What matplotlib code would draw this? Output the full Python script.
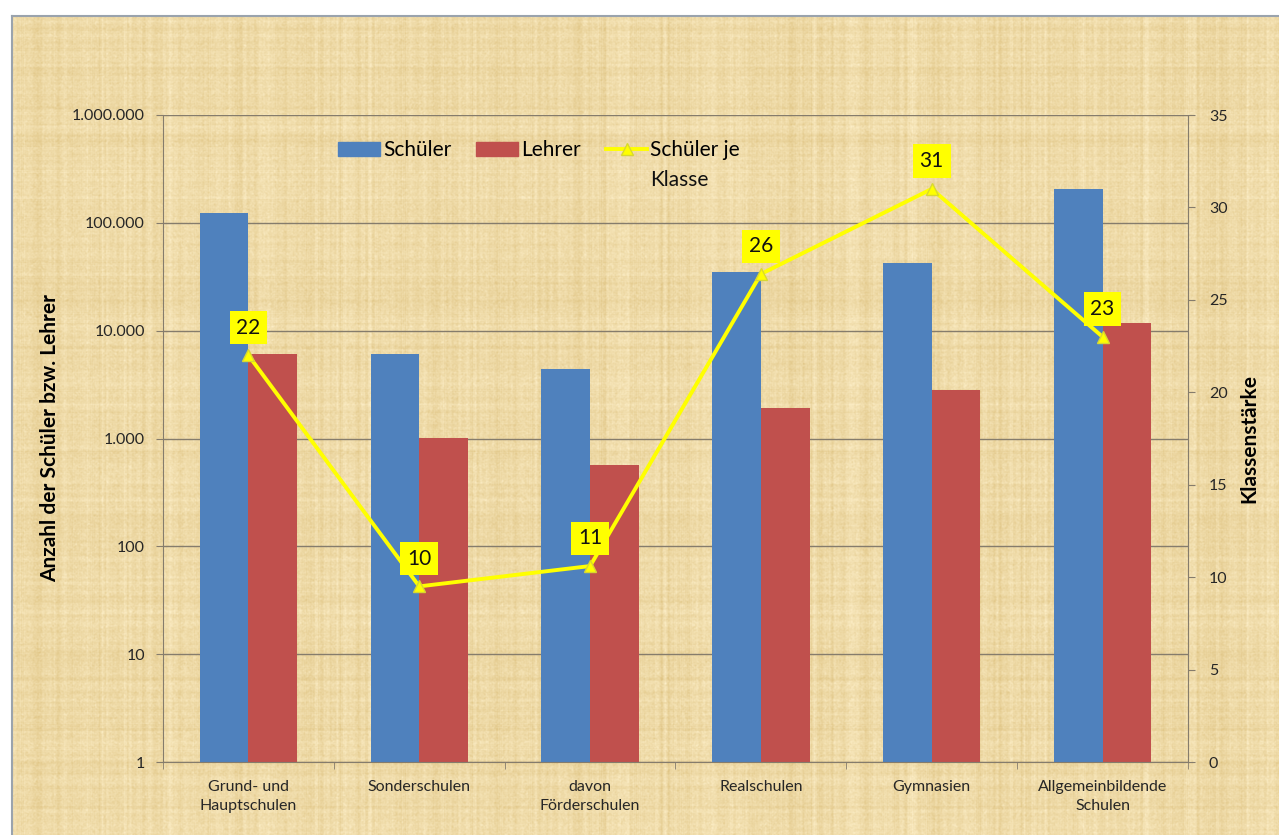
import numpy as np
import matplotlib
matplotlib.use('Agg')
import matplotlib.pyplot as plt
import matplotlib.ticker as mticker
import matplotlib.lines as mlines
import matplotlib.patches as mpatches

plt.rcParams['font.family'] = ['Lato', 'DejaVu Sans']

# Schulen: Schüler, Lehrer und Klassenstärke
schularten = ['Grund- und\nHauptschulen', 'Sonderschulen', 'davon\nFörderschulen',
              'Realschulen', 'Gymnasien', 'Allgemeinbildende\nSchulen']
schueler = [124000, 6100, 4400, 35000, 42500, 206000]
lehrer = [6100, 1010, 570, 1920, 2820, 11800]
klassenstaerke = [22.0, 9.5, 10.6, 26.4, 31.0, 23.0]

W, H = 1279, 835
fig = plt.figure(figsize=(W / 100, H / 100), dpi=100)
fig.patch.set_facecolor('white')

# Papyrus-Hintergrund, pixelgenau
rng = np.random.default_rng(11)
h, w = H - 17, W - 13
def glatt(a, n):
    k = np.ones(n) / n
    return np.convolve(a, k, mode='same')
spalten = glatt(rng.normal(0, 1, w), 3) + 0.7 * glatt(rng.normal(0, 1, w), 45)
zeilen = glatt(rng.normal(0, 1, h), 3) + 0.4 * glatt(rng.normal(0, 1, h), 35)
fein = rng.normal(0, 1, (h, w))
fein = (fein + np.roll(fein, 1, 0) + np.roll(fein, 1, 1) + np.roll(fein, (1, 1), (0, 1))) / 2
schatten = 0.022 * spalten[None, :] + 0.016 * zeilen[:, None] + 0.010 * fein
basis = np.array([0.935, 0.855, 0.655])
bild = np.clip(basis + schatten[..., None] * np.array([0.7, 1.0, 1.6]), 0, 1)
fig.figimage(bild, xo=13, yo=0, origin='upper', zorder=-10)
fig.add_artist(mlines.Line2D([12 / W, 12 / W], [0, 1 - 16 / H], color='#9aa3ad', lw=1.5))
fig.add_artist(mlines.Line2D([12 / W, 1], [1 - 16 / H, 1 - 16 / H], color='#9aa3ad', lw=1.5))

achse = '#857c6c'
ax = fig.add_axes([163 / W, 1 - 762 / H, (1188 - 163) / W, (762 - 115) / H], zorder=1)
ax.patch.set_alpha(0)
x = np.arange(len(schularten))
bw = 0.285
ax.bar(x - bw / 2, schueler, bw, color='#4F81BD', zorder=2)
ax.bar(x + bw / 2, lehrer, bw, color='#C0504D', zorder=2)
ax.set_yscale('log')
ax.set_ylim(1, 1e6)
ax.set_xlim(-0.5, len(schularten) - 0.5)
ax.yaxis.set_major_locator(mticker.LogLocator(base=10, numticks=10))
ax.yaxis.set_minor_locator(mticker.NullLocator())
ax.yaxis.set_major_formatter(mticker.FuncFormatter(lambda v, p: f'{int(round(v)):,}'.replace(',', '.')))
ax.grid(axis='y', color=achse, lw=1, zorder=1)
ax.set_axisbelow(True)

ax.set_xticks(x)
ax.set_xticklabels(schularten, fontsize=11.5, color='#262626', linespacing=1.45)
ax.set_xticks(np.arange(len(schularten) + 1) - 0.5, minor=True)
ax.tick_params(axis='x', which='major', length=0, pad=13)
ax.tick_params(axis='x', which='minor', length=5, color=achse, direction='out')
ax.tick_params(axis='y', length=5, color=achse, labelsize=11.5, labelcolor='#262626', pad=8)
for s in ['top', 'right']:
    ax.spines[s].set_visible(False)
for s in ['left', 'bottom']:
    ax.spines[s].set_color(achse)
ax.set_ylabel('Anzahl der Schüler bzw. Lehrer', fontsize=15, fontweight='bold')
ax.yaxis.set_label_coords(-0.1, 0.5)

ax2 = ax.twinx()
ax2.set_zorder(2)
ax2.patch.set_alpha(0)
ax2.plot(x, klassenstaerke, color='#FFFF00', lw=2.8, marker='^', ms=9,
         markerfacecolor='#FFFF00', markeredgecolor='#D8D830', zorder=3)
ax2.set_ylim(0, 35)
ax2.set_yticks(range(0, 36, 5))
ax2.tick_params(axis='y', length=5, color=achse, labelsize=11.5, labelcolor='#262626', pad=10)
for s in ['top', 'left', 'bottom']:
    ax2.spines[s].set_visible(False)
ax2.spines['right'].set_color(achse)
ax2.set_ylabel('Klassenstärke', fontsize=15, fontweight='bold')
ax2.yaxis.set_label_coords(1.05, 0.5)

for xi, k in zip(x, klassenstaerke):
    ax2.annotate(f'{k:.0f}', (xi, k), xytext=(0, 20), textcoords='offset points',
                 ha='center', va='center', fontsize=15, color='#111111',
                 bbox=dict(boxstyle='square,pad=0.32', fc='#FFFF00', ec='none'), zorder=4)

griffe = [mpatches.Patch(color='#4F81BD'), mpatches.Patch(color='#C0504D'),
          mlines.Line2D([], [], color='#FFFF00', lw=2.8, marker='^', ms=8,
                        markerfacecolor='#FFFF00', markeredgecolor='#D8D830')]
leg = ax2.legend(griffe, ['Schüler', 'Lehrer', 'Schüler je'], ncol=3, frameon=False,
                 loc='upper center', bbox_to_anchor=(0.367, 0.99), fontsize=15,
                 handlelength=2.0, handletextpad=0.15, columnspacing=1.2)

# zweite Zeile des dritten Legendeneintrags
fig.canvas.draw()
bb = leg.get_texts()[2].get_window_extent().transformed(fig.transFigure.inverted())
fig.text(bb.x0, bb.y0 - 0.012, 'Klasse', fontsize=15, color='#111111', ha='left', va='top')

fig.savefig('out.png', dpi=100)
